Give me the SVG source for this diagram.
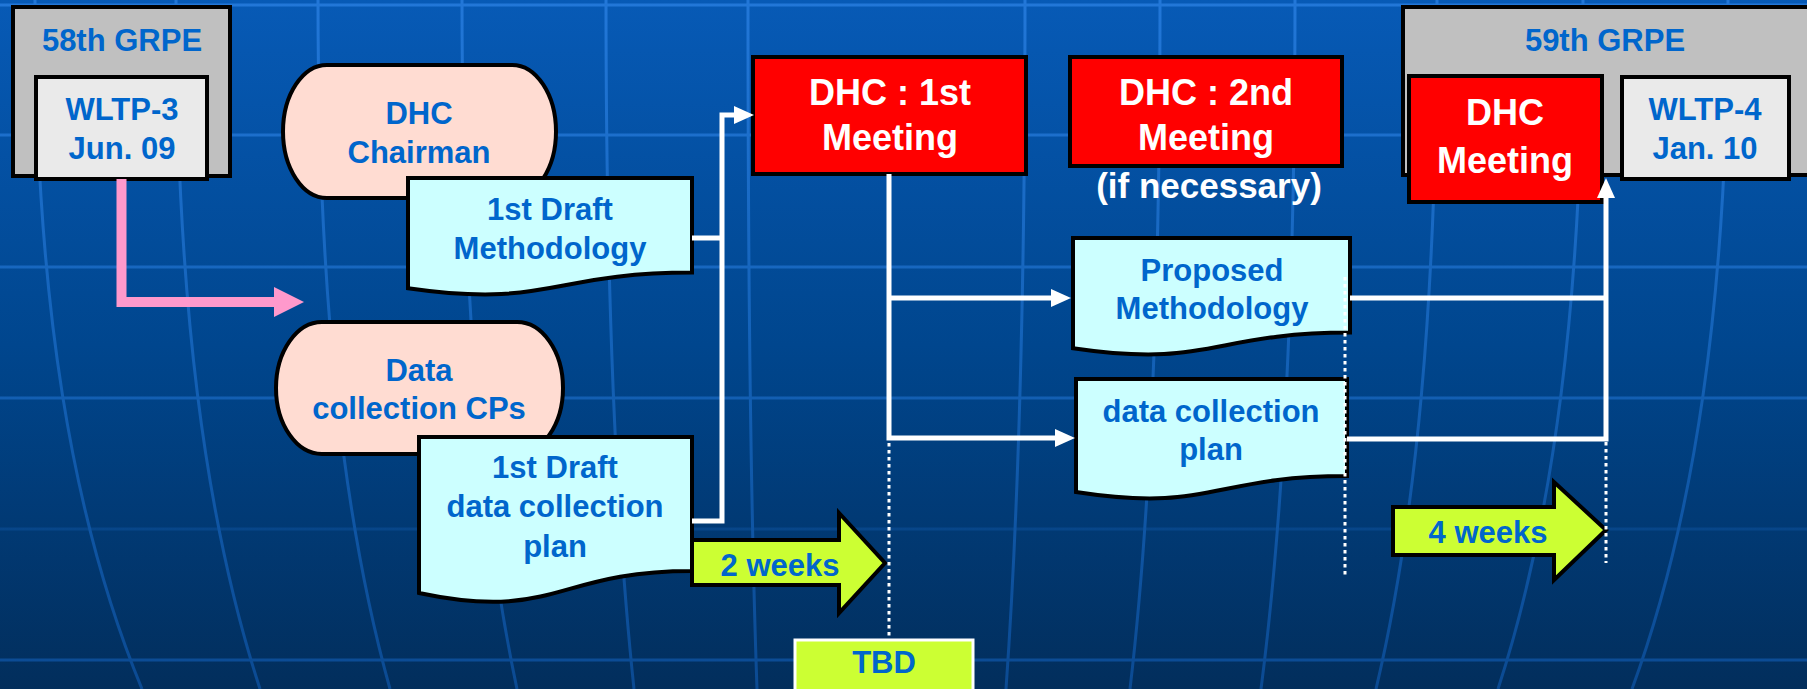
<svg xmlns="http://www.w3.org/2000/svg" width="1807" height="689" viewBox="0 0 1807 689">
<defs>
<linearGradient id="bg" x1="0" y1="0" x2="0" y2="1">
<stop offset="0" stop-color="#075ab6"/>
<stop offset="0.5" stop-color="#00468e"/>
<stop offset="1" stop-color="#022e5c"/>
</linearGradient>
<linearGradient id="gl" gradientUnits="userSpaceOnUse" x1="0" y1="0" x2="0" y2="689">
<stop offset="0" stop-color="#2277d8"/>
<stop offset="0.5" stop-color="#1462b8"/>
<stop offset="1" stop-color="#0b4a92"/>
</linearGradient>
<marker id="ah" markerUnits="userSpaceOnUse" viewBox="0 0 20 18" refX="0" refY="9" markerWidth="20" markerHeight="18" orient="auto">
<path d="M0,0 L20,9 L0,18 Z" fill="#ffffff"/>
</marker>
<style>
.grid{fill:none;stroke:url(#gl);stroke-width:3}
.t{font-family:"Liberation Sans",Arial,Helvetica,sans-serif;font-weight:bold;text-anchor:middle}
.blue{fill:#0066cc;font-size:31px}
.white{fill:#ffffff;font-size:36px}
.box{stroke:#000;stroke-width:4}
.grey{fill:#c0c0c0}
.lgrey{fill:#eaeaea}
.red{fill:#ff0000}
.term{fill:#ffdcd2;stroke:#000;stroke-width:4}
.doc{fill:#ccffff;stroke:#000;stroke-width:4;stroke-linejoin:miter}
.fat{fill:#ccff33;stroke:#000;stroke-width:4}
.conn{fill:none;stroke:#ffffff;stroke-width:5;stroke-linejoin:miter}
.dot{fill:none;stroke:#ffffff;stroke-width:3;stroke-dasharray:3.5 3.5}
</style>
</defs>
<rect x="0" y="0" width="1807" height="689" fill="url(#bg)"/>
<g id="background-grid">
<path class="grid" d="M0,5 H1807 M0,135 H1807 M0,267 H1807 M0,398 H1807 M0,660 H1807"/>
<path class="grid" d="M0,529 H1807" opacity="0.45"/>
<path class="grid" d="M35,0 C35,300 72,520 142,689"/>
<path class="grid" d="M176,0 C176,300 205,520 260,689"/>
<path class="grid" d="M318,0 C318,300 343,520 390,689"/>
<path class="grid" d="M462,0 C462,300 481,520 517,689"/>
<path class="grid" d="M606,0 C606,300 616,520 634,689"/>
<path class="grid" d="M748,0 C748,300 751,520 757,689"/>
<path class="grid" d="M1025,0 C1025,300 1018,520 1006,689"/>
<path class="grid" d="M1160,0 C1160,300 1150,520 1130,689"/>
<path class="grid" d="M1295,0 C1295,300 1283,520 1261,689"/>
<path class="grid" d="M1437,0 C1437,300 1416,520 1376,689"/>
<path class="grid" d="M1583,0 C1583,300 1553,520 1498,689"/>
<path class="grid" d="M1728,0 C1728,300 1694,520 1632,689"/>
</g>
<g id="grpe58">
<rect class="box grey" x="13" y="7" width="217" height="169"/>
<text class="t blue" x="122" y="51">58th GRPE</text>
</g>
<g id="wltp3">
<rect class="box lgrey" x="36" y="77" width="171" height="102"/>
<text class="t blue" x="122" y="120">WLTP-3</text>
<text class="t blue" x="122" y="159">Jun. 09</text>
</g>
<g id="grpe59">
<rect class="box grey" x="1403" y="7" width="410" height="168"/>
<text class="t blue" x="1605" y="51">59th GRPE</text>
</g>
<g id="dhc-meeting-59">
<rect class="box red" x="1409" y="76" width="193" height="126"/>
<text class="t white" x="1505" y="125">DHC</text>
<text class="t white" x="1505" y="173">Meeting</text>
</g>
<g id="wltp4">
<rect class="box lgrey" x="1622" y="77" width="167" height="102"/>
<text class="t blue" x="1705" y="120">WLTP-4</text>
<text class="t blue" x="1705" y="159">Jan. 10</text>
</g>
<g id="dhc-chairman">
<path class="term" d="M327,65 L512,65 A44,66.5 0 0 1 512,198 L327,198 A44,66.5 0 0 1 327,65 Z"/>
<text class="t blue" x="419" y="124">DHC</text>
<text class="t blue" x="419" y="163">Chairman</text>
</g>
<g id="data-collection-cps">
<path class="term" d="M322,322 L517,322 A46,66 0 0 1 517,454 L322,454 A46,66 0 0 1 322,322 Z"/>
<text class="t blue" x="419" y="381">Data</text>
<text class="t blue" x="419" y="419">collection CPs</text>
</g>
<g id="draft-methodology">
<path class="doc" d="M408,178 H692 V272.6 C550,272.6 550,308.6 408,288.2 Z"/>
<text class="t blue" x="550" y="220">1st Draft</text>
<text class="t blue" x="550" y="259">Methodology</text>
</g>
<g id="draft-data-plan">
<path class="doc" d="M419,437 H692 V570.9 C555.5,570.9 555.5,621.9 419,593 Z"/>
<text class="t blue" x="555" y="478">1st Draft</text>
<text class="t blue" x="555" y="517">data collection</text>
<text class="t blue" x="555" y="557">plan</text>
</g>
<g id="dhc-1st">
<rect class="box red" x="753" y="57" width="273" height="117"/>
<text class="t white" x="890" y="105">DHC : 1st</text>
<text class="t white" x="890" y="150">Meeting</text>
</g>
<g id="dhc-2nd">
<rect class="box red" x="1070" y="57" width="272" height="109"/>
<text class="t white" x="1206" y="105">DHC : 2nd</text>
<text class="t white" x="1206" y="150">Meeting</text>
<text class="t white" x="1209" y="198" style="font-size:35px">(if necessary)</text>
</g>
<g id="proposed-methodology">
<path class="doc" d="M1073,238 H1350 V332.6 C1211.5,332.6 1211.5,368.6 1073,348.2 Z"/>
<text class="t blue" x="1212" y="281">Proposed</text>
<text class="t blue" x="1212" y="319">Methodology</text>
</g>
<g id="data-plan">
<path class="doc" d="M1076,379 H1347 V476 C1211.5,476 1211.5,513 1076,492 Z"/>
<text class="t blue" x="1211" y="422">data collection</text>
<text class="t blue" x="1211" y="460">plan</text>
</g>
<g id="two-weeks">
<path class="fat" d="M692,540 H839 V513 L885,563 L839,613 V585 H692 Z"/>
<text class="t blue" x="780" y="576">2 weeks</text>
</g>
<g id="four-weeks">
<path class="fat" d="M1393,507 H1554 V482 L1606,530 L1554,580 V555 H1393 Z"/>
<text class="t blue" x="1488" y="543">4 weeks</text>
</g>
<g id="tbd">
<rect x="795" y="640" width="178" height="60" fill="#ccff33" stroke="#ffffff" stroke-width="3"/>
<text class="t blue" x="884" y="673">TBD</text>
</g>
<g id="connectors">
<path d="M121.5,179 V302 H276" fill="none" stroke="#ff99cc" stroke-width="10"/>
<path d="M274,287 L304,302 L274,317 Z" fill="#ff99cc"/>
<path class="conn" d="M692,238 H722"/>
<path class="conn" d="M692,521 H722 V115 H734" marker-end="url(#ah)"/>
<path class="conn" d="M889,174 V438 H1055" marker-end="url(#ah)"/>
<path class="conn" d="M889,298 H1051" marker-end="url(#ah)"/>
<path class="conn" d="M1350,298 H1606"/>
<path class="conn" d="M1347,439 H1606 V198" marker-end="url(#ah)"/>
<path class="dot" d="M889,443 V638"/>
<path class="dot" d="M1345,277 V577"/>
<path class="dot" d="M1606,442 V563"/>
</g>
</svg>
